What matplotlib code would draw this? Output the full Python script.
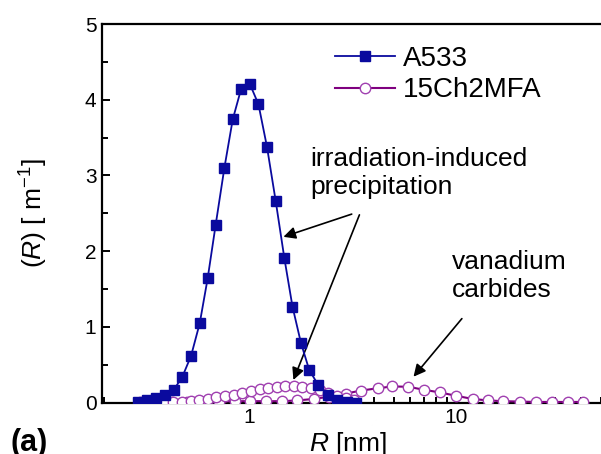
import matplotlib.pyplot as plt

plt.rcParams['font.family'] = ['Liberation Sans', 'DejaVu Sans']
plt.rcParams['mathtext.fontset'] = 'custom'
plt.rcParams['mathtext.rm'] = 'Liberation Sans'
plt.rcParams['mathtext.it'] = 'Liberation Sans:italic'

# A533 size distribution (blue squares)
a533_r = [0.29, 0.32, 0.357, 0.393, 0.433, 0.476, 0.525, 0.578, 0.631, 0.690,
          0.760, 0.834, 0.915, 1.008, 1.11, 1.22, 1.345, 1.48, 1.62, 1.78,
          1.95, 2.15, 2.41, 2.67, 2.97, 3.27]
a533_v = [0.01, 0.03, 0.06, 0.105, 0.17, 0.34, 0.62, 1.05, 1.64, 2.35,
          3.10, 3.74, 4.14, 4.21, 3.94, 3.38, 2.66, 1.91, 1.27, 0.79,
          0.435, 0.24, 0.105, 0.04, 0.01, 0.0]

# 15Ch2MFA, precipitation peak (fine grid)
ch_prec_r = [0.294, 0.324, 0.356, 0.392, 0.431, 0.475, 0.522, 0.574, 0.632, 0.696,
             0.766, 0.843, 0.927, 1.02, 1.123, 1.235, 1.359, 1.496, 1.646, 1.811,
             1.993, 2.193, 2.413, 2.655, 2.922, 3.215]
ch_prec_v = [0.0, 0.0, 0.0, 0.0, 0.005, 0.01, 0.02, 0.035, 0.05, 0.07,
             0.09, 0.105, 0.13, 0.16, 0.18, 0.19, 0.21, 0.215, 0.215, 0.21,
             0.19, 0.17, 0.13, 0.09, 0.06, 0.04]

# 15Ch2MFA, vanadium carbide peak (coarse grid)
ch_carb_r = [0.298, 0.356, 0.423, 0.504, 0.600, 0.715, 0.851, 1.013, 1.207, 1.437,
             1.711, 2.061, 2.436, 2.93, 3.46, 4.17, 4.92, 5.88, 7.0, 8.37,
             10.03, 11.99, 14.2, 16.9, 20.3, 24.3, 28.9, 34.5, 41.1]
ch_carb_v = [0.01, 0.01, 0.01, 0.01, 0.015, 0.015, 0.02, 0.02, 0.02, 0.02,
             0.03, 0.05, 0.08, 0.12, 0.16, 0.19, 0.215, 0.21, 0.17, 0.135,
             0.09, 0.05, 0.03, 0.02, 0.015, 0.01, 0.01, 0.01, 0.01]

blue = '#0a0a9e'
purple_line = '#7f007f'
purple_edge = '#a040b0'

fig = plt.figure(figsize=(6.01, 4.54), dpi=100)
ax = fig.add_axes([102 / 601, 51.3 / 454, 499 / 601, 378.7 / 454])

ax.plot(ch_carb_r, ch_carb_v, color=purple_line, lw=1.5, marker='o', ms=7.5,
        mfc='white', mec=purple_edge, mew=1.0, zorder=3)
l2, = ax.plot(ch_prec_r, ch_prec_v, color=purple_line, lw=1.5, marker='o', ms=7.5,
              mfc='white', mec=purple_edge, mew=1.0, zorder=3, label='15Ch2MFA')
l1, = ax.plot(a533_r, a533_v, color=blue, lw=1.3, marker='s', ms=7,
              mfc=blue, mec=blue, zorder=4, label='A533')

ax.set_xscale('log')
ax.set_xlim(0.195, 50)
ax.set_ylim(0, 5)
ax.set_xticks([1, 10])
ax.set_xticklabels(['1', '10'])
ax.set_yticks([0, 1, 2, 3, 4, 5])
ax.set_yticks([0.5, 1.5, 2.5, 3.5, 4.5], minor=True)

ax.spines['right'].set_visible(False)
for s in ['left', 'bottom', 'top']:
    ax.spines[s].set_linewidth(1.6)
ax.tick_params(which='both', direction='in', top=False, right=False,
               width=1.4, labelsize=15)
ax.tick_params(which='major', length=6, pad=4)
ax.tick_params(which='minor', length=4)

ax.set_xlabel('$R$ [nm]', fontsize=19)
ax.xaxis.label.set_va('baseline')
ax.xaxis.set_label_coords(0.493, -0.128)
ax.set_ylabel('($R$) [ m$^{-1}$]', fontsize=19)
ax.yaxis.set_label_coords(-0.104, 0.5)

ax.legend(handles=[l1, l2], loc='upper left', bbox_to_anchor=(335 / 601, 0.899),
          bbox_transform=fig.transFigure, frameon=False, fontsize=20,
          borderpad=0, borderaxespad=0, handlelength=2.15, handletextpad=0.3,
          labelspacing=0.2)

arrow = dict(arrowstyle='-|>', color='k', lw=1.2, mutation_scale=18,
             shrinkA=0, shrinkB=0)
ax.text(1.971, 3.376, 'irradiation-induced\nprecipitation', fontsize=19,
        ha='left', va='top')
ax.annotate('', xy=(1.465, 2.19), xytext=(3.13, 2.49), arrowprops=arrow)
ax.annotate('', xy=(1.637, 0.30), xytext=(3.41, 2.48), arrowprops=arrow)
ax.text(9.53, 2.016, 'vanadium\ncarbides', fontsize=19, ha='left', va='top')
ax.annotate('', xy=(6.22, 0.343), xytext=(10.65, 1.11), arrowprops=arrow)

fig.text(10 / 601, 1 - 451 / 454, '(a)', fontsize=22, fontweight='bold',
         ha='left', va='baseline')

fig.savefig('out.png', dpi=100)
